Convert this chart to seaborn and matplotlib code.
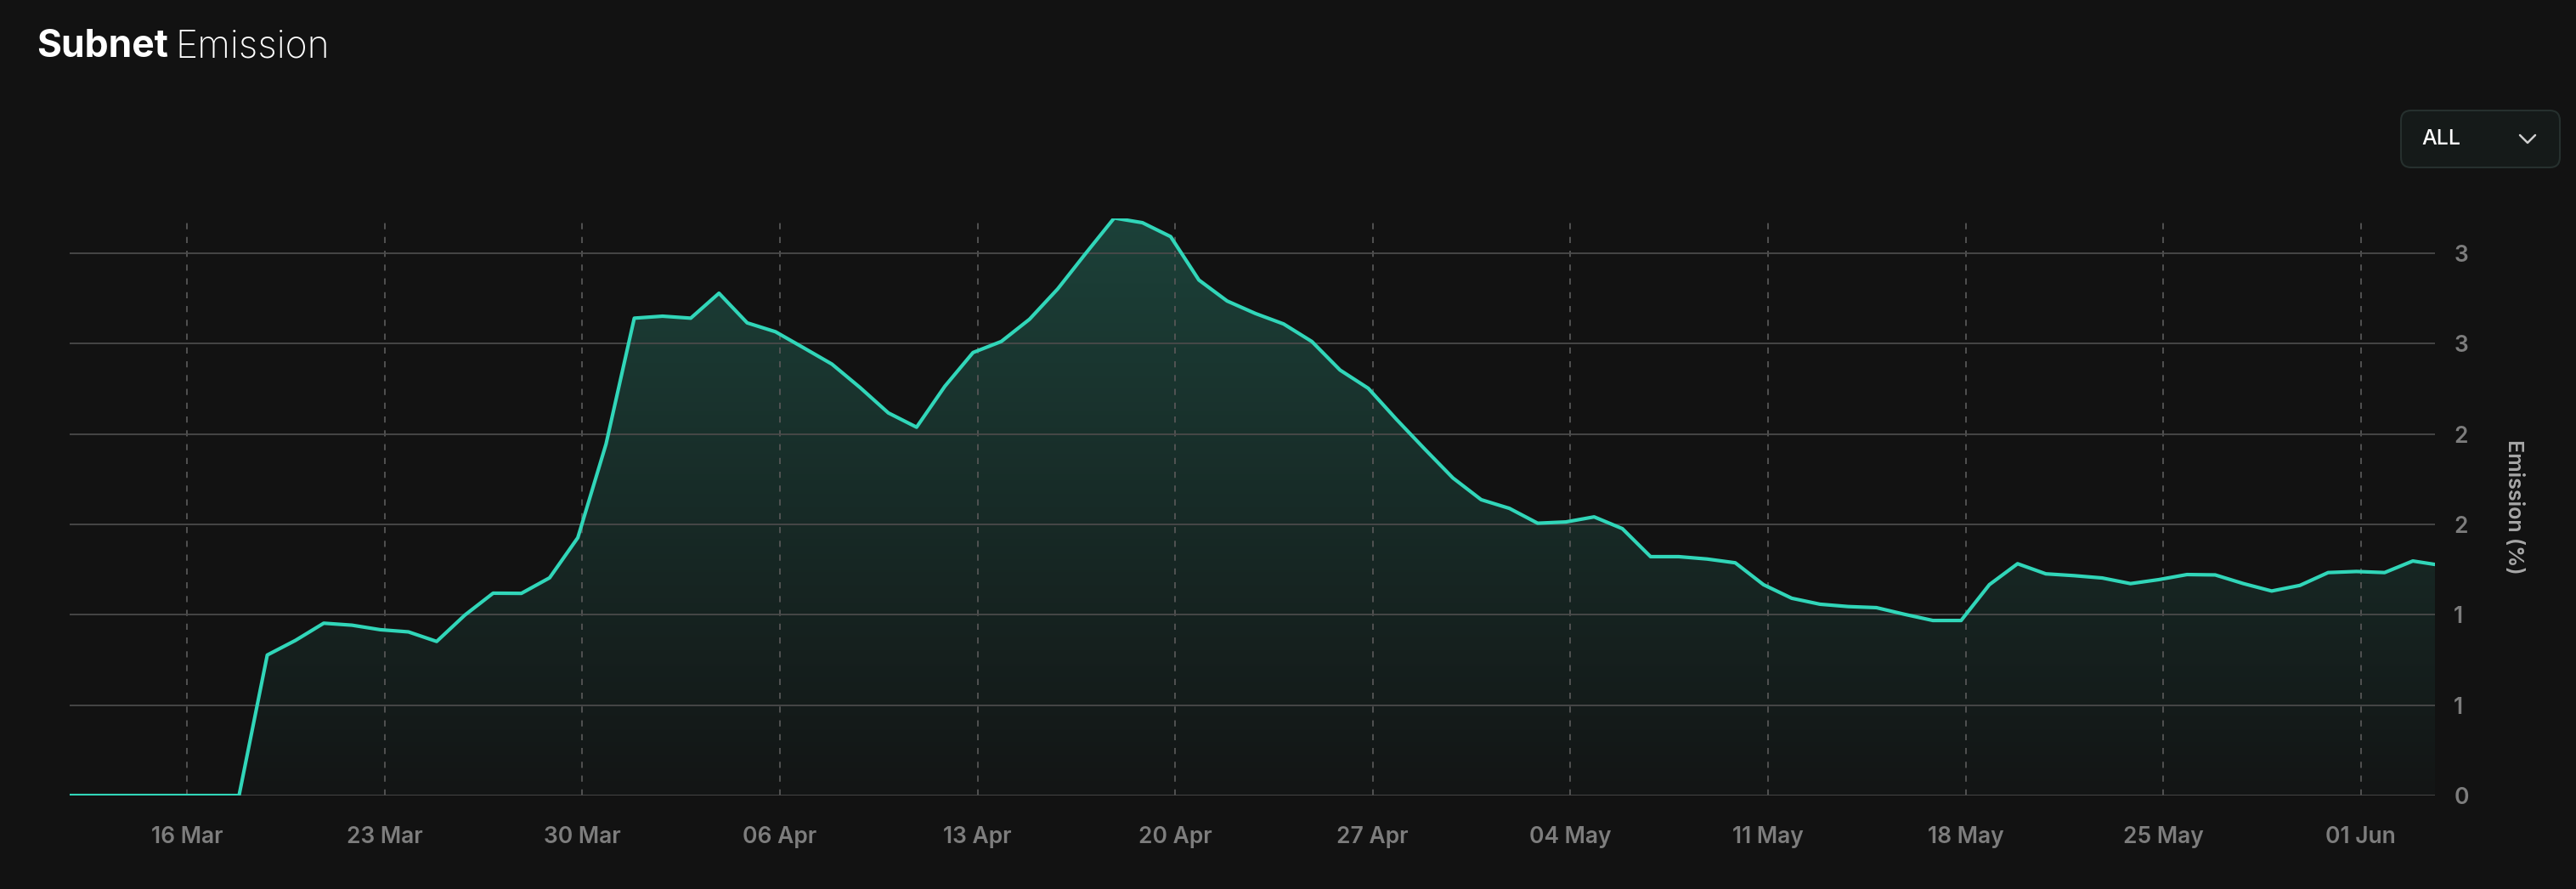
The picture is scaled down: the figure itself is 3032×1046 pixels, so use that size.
import numpy as np
import pandas as pd
import matplotlib
matplotlib.use("Agg")
import matplotlib.pyplot as plt
import matplotlib.dates as mdates
from matplotlib.patches import FancyBboxPatch
from matplotlib.lines import Line2D
import seaborn as sns

# ---------------- data ----------------
dates = list(pd.date_range("2025-03-11 20:10", periods=84, freq="D")) + [pd.Timestamp("2025-06-03 15:00")]
emission = [
    0.0, 0.0, 0.0, 0.0, 0.0, 0.0, 0.0,
    0.777, 0.858, 0.953, 0.942, 0.917, 0.905, 0.852, 0.998, 1.119, 1.118, 1.204,
    1.426, 1.944, 2.640, 2.651, 2.640, 2.778, 2.614, 2.565, 2.476, 2.386, 2.256,
    2.116, 2.037, 2.263, 2.450, 2.511, 2.634, 2.802, 3.000, 3.194, 3.168, 3.091,
    2.851, 2.735, 2.666, 2.608, 2.511, 2.353, 2.252, 2.080, 1.916, 1.756, 1.636,
    1.588, 1.506, 1.513, 1.541, 1.476, 1.321, 1.321, 1.308, 1.287, 1.166, 1.091,
    1.058, 1.045, 1.039, 1.002, 0.968, 0.968, 1.166, 1.282, 1.226, 1.216, 1.203,
    1.172, 1.194, 1.222, 1.220, 1.172, 1.131, 1.162, 1.233, 1.239, 1.233, 1.297,
    1.278,
]
xtick_dates = ["2025-03-16", "2025-03-23", "2025-03-30", "2025-04-06", "2025-04-13",
               "2025-04-20", "2025-04-27", "2025-05-04", "2025-05-11", "2025-05-18",
               "2025-05-25", "2025-06-01"]
xtick_labels = ["16 Mar", "23 Mar", "30 Mar", "06 Apr", "13 Apr", "20 Apr", "27 Apr",
                "04 May", "11 May", "18 May", "25 May", "01 Jun"]
ytick_values = [0, 0.5, 1, 1.5, 2, 2.5, 3]
ytick_labels = ["0", "1", "1", "2", "2", "3", "3"]

# ---------------- style ----------------
BG = "#121212"
LINE = "#31d6b9"
GRID_H = "#4a4a4a"
GRID_V = "#565656"
TICK = "#7d7d7d"

sns.set_theme(style="dark")
plt.rcParams["font.family"] = ["Inter", "DejaVu Sans"]

W, H, DPI = 3032, 1046, 100
fig = plt.figure(figsize=(W / DPI, H / DPI), dpi=DPI, facecolor=BG)
ax = fig.add_axes([82 / W, 1 - 936 / H, (2866 - 82) / W, (936 - 256.5) / H])
ax.set_facecolor(BG)

df = pd.DataFrame({"date": pd.to_datetime(dates), "emission": emission})

sns.lineplot(data=df, x="date", y="emission", ax=ax, color=LINE, linewidth=3.0, zorder=3)

# gradient area fill clipped to the area under the line
poly = ax.fill_between(df["date"], df["emission"], 0, color="none", linewidth=0)
ymax = df["emission"].max()
x0 = mdates.date2num(df["date"].iloc[0])
x1 = mdates.date2num(df["date"].iloc[-1])
top_c = np.array(matplotlib.colors.to_rgb("#1c4139"))
bot_c = np.array(matplotlib.colors.to_rgb("#131515"))
t = np.linspace(0, 1, 256)[:, None]
grad = (top_c[None, :] * (1 - t) + bot_c[None, :] * t)[:, None, :]
img = ax.imshow(grad, extent=[x0, x1, 0, ymax], aspect="auto", origin="upper",
                zorder=0.3, interpolation="bicubic")
img.set_clip_path(poly.get_paths()[0], transform=ax.transData)

ax.set_xlim(df["date"].iloc[0], df["date"].iloc[-1])
ax.set_ylim(0, ymax)

# grid
ax.set_axisbelow(True)
ax.grid(axis="y", color=GRID_H, linewidth=1.3, linestyle="-")
ax.grid(axis="x", color=GRID_V, linewidth=1.3, linestyle=(0, (4, 5)))

ax.set_xticks(pd.to_datetime(xtick_dates), xtick_labels)
ax.set_yticks(ytick_values, ytick_labels)
ax.yaxis.tick_right()
ax.yaxis.set_label_position("right")
ax.tick_params(axis="x", length=0, pad=26, labelcolor=TICK, labelsize=19)
ax.tick_params(axis="y", length=0, pad=16, labelcolor=TICK, labelsize=19)
for lab in ax.get_xticklabels() + ax.get_yticklabels():
    lab.set_fontweight("semibold")
ax.set_xlabel("")
ax.set_ylabel("Emission (%)", rotation=270, labelpad=46, color="#a8a8a8",
              fontsize=18, fontweight="semibold")
for s in ax.spines.values():
    s.set_visible(False)

# title
t1 = fig.text(43 / W, 1 - 67 / H, "Subnet", fontsize=32, fontweight="bold",
              color="white", va="baseline", ha="left")
fig.canvas.draw()
bb = t1.get_window_extent()
fig.text((bb.x1 + 8) / W, 1 - 67 / H, "Emission", fontsize=32, fontweight="light",
         color="white", va="baseline", ha="left")

# dropdown box
box = FancyBboxPatch((2826, H - 197), 187, 67, boxstyle="round,pad=0,rounding_size=12",
                     transform=None, facecolor="#151a19", edgecolor="#26302e",
                     linewidth=1.5, zorder=5)
fig.patches.append(box)
fig.text(2850 / W, 1 - 164 / H, "ALL", fontsize=18, fontweight="medium",
         color="white", va="center", ha="left", zorder=7)
chev = Line2D([2966, 2975, 2984], [H - 159, H - 168, H - 159], transform=None,
              color="#cfcfcf", linewidth=1.8, solid_capstyle="round", zorder=7)
fig.lines.append(chev)

fig.savefig("out.png", dpi=DPI, facecolor=BG)
